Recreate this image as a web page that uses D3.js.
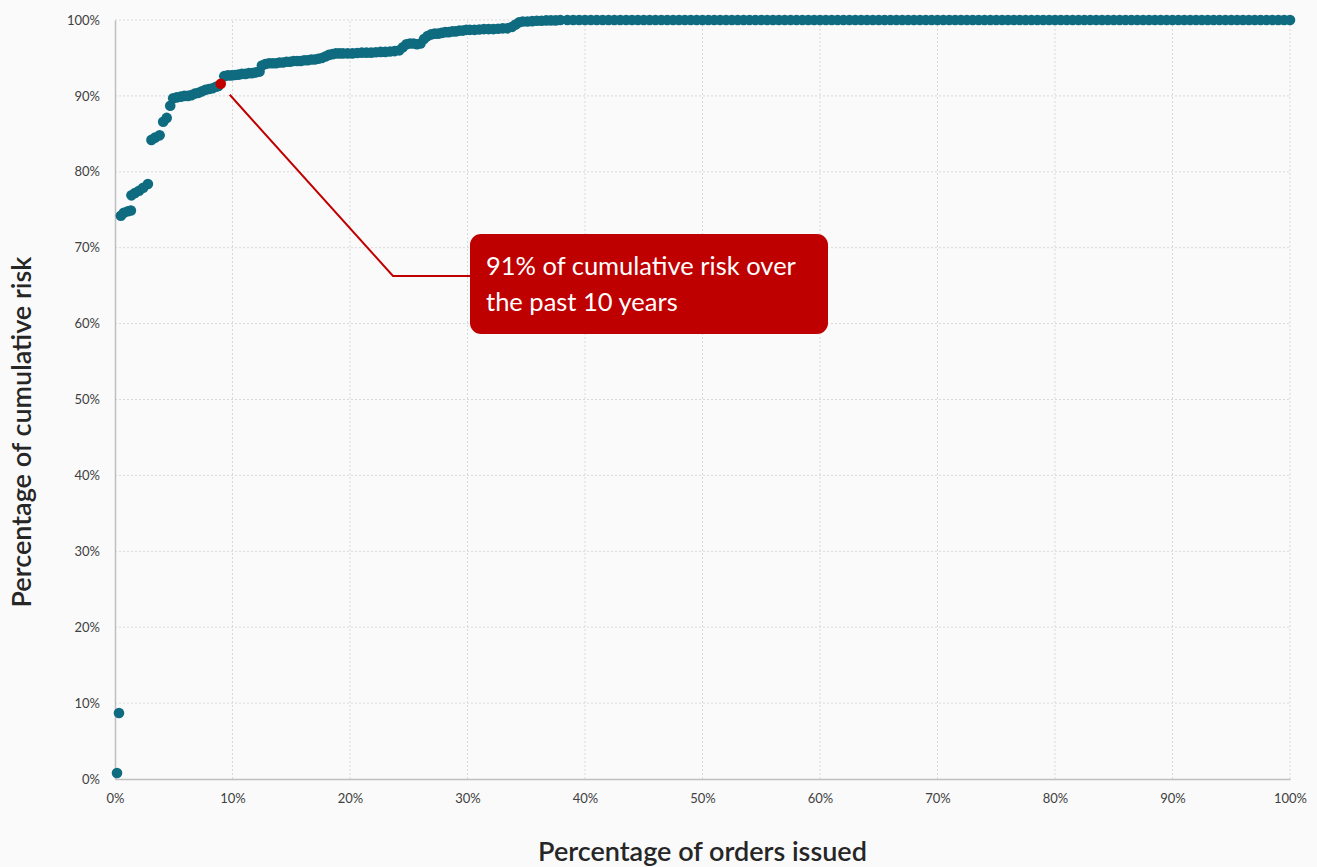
<!DOCTYPE html>
<html>
<head>
<meta charset="utf-8">
<script src="https://cdn.jsdelivr.net/npm/d3@7"></script>
<style>
  body { margin: 0; background: #fafafa; }
  svg { display: block; font-family: Lato, "Noto Sans", sans-serif; }
</style>
</head>
<body>
<svg id="chart"></svg>
<script>
// Percentage of orders issued (x) and percentage of cumulative risk (y)
const orderPct = [
  0.17, 0.34, 0.5, 0.75, 1.1, 1.35, 1.4, 1.7, 2.05, 2.4, 2.8, 3.1, 3.4, 3.8, 4.1, 4.4, 4.7, 4.95,
  5.25, 5.6, 5.9, 6.2, 6.5, 6.8, 7.1, 7.4, 7.7, 8.0, 8.3, 8.6, 8.8,
  9.3, 9.6, 9.9, 10.2, 10.5, 10.8, 11.1, 11.4, 11.7, 12.0, 12.3, 12.5, 12.8, 13.1, 13.4, 13.7,
  14.0, 14.3, 14.6, 14.9, 15.2, 15.5, 15.8, 16.1, 16.4, 16.7, 17.0, 17.3, 17.6, 17.9, 18.2, 18.5,
  18.8, 19.1, 19.4, 19.8, 20.2, 20.6, 21.0, 21.4, 21.8, 22.2, 22.6, 23.0, 23.4, 23.8, 24.2,
  24.5, 24.8, 25.1, 25.4, 25.7, 26.0, 26.3, 26.6, 26.9, 27.2, 27.5, 27.8, 28.1, 28.4, 28.7, 29.0,
  29.3, 29.6, 29.9, 30.2, 30.6, 31.0, 31.4, 31.8, 32.2, 32.6, 33.0, 33.4, 33.8, 34.1, 34.4, 34.7,
  35.1, 35.5, 35.9, 36.3, 36.7, 37.1, 37.5, 37.9,
  38.5, 39, 39.5, 40, 40.5, 41, 41.5, 42, 42.5, 43, 43.5, 44, 44.5, 45, 45.5, 46, 46.5, 47, 47.5,
  48, 48.5, 49, 49.5, 50, 50.5, 51, 51.5, 52, 52.5, 53, 53.5, 54, 54.5, 55, 55.5, 56, 56.5, 57,
  57.5, 58, 58.5, 59, 59.5, 60, 60.5, 61, 61.5, 62, 62.5, 63, 63.5, 64, 64.5, 65, 65.5, 66, 66.5,
  67, 67.5, 68, 68.5, 69, 69.5, 70, 70.5, 71, 71.5, 72, 72.5, 73, 73.5, 74, 74.5, 75, 75.5, 76,
  76.5, 77, 77.5, 78, 78.5, 79, 79.5, 80, 80.5, 81, 81.5, 82, 82.5, 83, 83.5, 84, 84.5, 85, 85.5,
  86, 86.5, 87, 87.5, 88, 88.5, 89, 89.5, 90, 90.5, 91, 91.5, 92, 92.5, 93, 93.5, 94, 94.5, 95,
  95.5, 96, 96.5, 97, 97.5, 98, 98.5, 99, 99.5, 100
];
const riskPct = [
  0.8, 8.7, 74.2, 74.6, 74.8, 74.9, 76.9, 77.2, 77.5, 77.9, 78.4, 84.2, 84.5, 84.8, 86.6, 87.1, 88.7, 89.7,
  89.8, 89.9, 90.0, 90.0, 90.1, 90.3, 90.4, 90.6, 90.8, 90.9, 91.0, 91.2, 91.3,
  92.6, 92.7, 92.7, 92.75, 92.8, 92.9, 92.9, 93.0, 93.0, 93.1, 93.2, 94.0, 94.2, 94.3, 94.3, 94.3,
  94.4, 94.4, 94.5, 94.5, 94.6, 94.6, 94.6, 94.7, 94.7, 94.8, 94.8, 94.9, 95.0, 95.2, 95.4, 95.5,
  95.6, 95.6, 95.6, 95.6, 95.6, 95.65, 95.7, 95.7, 95.7, 95.75, 95.8, 95.8, 95.85, 95.9, 96.0,
  96.4, 96.8, 96.9, 96.9, 96.8, 96.9, 97.5, 97.9, 98.1, 98.2, 98.2, 98.3, 98.4, 98.4, 98.5, 98.5,
  98.6, 98.6, 98.7, 98.7, 98.7, 98.75, 98.8, 98.8, 98.8, 98.85, 98.9, 98.9, 99.1, 99.4, 99.7, 99.8,
  99.8, 99.85, 99.9, 99.9, 99.95, 99.95, 99.95, 100,
  100, 100, 100, 100, 100, 100, 100, 100, 100, 100, 100, 100, 100, 100, 100, 100, 100, 100, 100,
  100, 100, 100, 100, 100, 100, 100, 100, 100, 100, 100, 100, 100, 100, 100, 100, 100, 100, 100,
  100, 100, 100, 100, 100, 100, 100, 100, 100, 100, 100, 100, 100, 100, 100, 100, 100, 100, 100,
  100, 100, 100, 100, 100, 100, 100, 100, 100, 100, 100, 100, 100, 100, 100, 100, 100, 100, 100,
  100, 100, 100, 100, 100, 100, 100, 100, 100, 100, 100, 100, 100, 100, 100, 100, 100, 100, 100,
  100, 100, 100, 100, 100, 100, 100, 100, 100, 100, 100, 100, 100, 100, 100, 100, 100, 100, 100,
  100, 100, 100, 100, 100, 100, 100, 100, 100, 100
];
// highlighted point (10 year mark)
const highlight = { x: 9.0, y: 91.6 };
const annotationLines = ["91% of cumulative risk over", "the past 10 years"];
const xTicks = [0, 10, 20, 30, 40, 50, 60, 70, 80, 90, 100];
const yTicks = [0, 10, 20, 30, 40, 50, 60, 70, 80, 90, 100];

const width = 1317, height = 867;
const margin = { top: 20, right: 27, bottom: 88, left: 115 };

const svg = d3.select("#chart").attr("width", width).attr("height", height);

const x = d3.scaleLinear().domain([0, 100]).range([margin.left, width - margin.right]);
const y = d3.scaleLinear().domain([0, 100]).range([height - margin.bottom, margin.top]);

// gridlines
svg.append("g")
  .selectAll("line")
  .data(xTicks.slice(1))
  .enter().append("line")
  .attr("x1", d => x(d)).attr("x2", d => x(d))
  .attr("y1", y(0)).attr("y2", y(100))
  .attr("stroke", "#d9d9d9").attr("stroke-dasharray", "2,2");

svg.append("g")
  .selectAll("line")
  .data(yTicks.slice(1))
  .enter().append("line")
  .attr("x1", x(0)).attr("x2", x(100))
  .attr("y1", d => y(d)).attr("y2", d => y(d))
  .attr("stroke", "#d9d9d9").attr("stroke-dasharray", "2,2");

// axes
const axisX = d3.axisBottom(x).tickValues(xTicks).tickFormat(d => d + "%").tickSize(0).tickPadding(15);
const gX = svg.append("g")
  .attr("transform", `translate(0,${y(0)})`)
  .call(axisX);
gX.select(".domain").attr("stroke", "#bfbfbf").attr("stroke-width", 1.5);
gX.selectAll("text").attr("font-size", 13).attr("fill", "#404040").attr("font-family", "Lato, sans-serif");

const axisY = d3.axisLeft(y).tickValues(yTicks).tickFormat(d => d + "%").tickSize(0).tickPadding(15);
const gY = svg.append("g")
  .attr("transform", `translate(${x(0)},0)`)
  .call(axisY);
gY.select(".domain").attr("stroke", "#bfbfbf").attr("stroke-width", 1.5);
gY.selectAll("text").attr("font-size", 13).attr("fill", "#404040").attr("font-family", "Lato, sans-serif");

// axis titles
svg.append("text")
  .attr("x", (x(0) + x(100)) / 2)
  .attr("y", 861)
  .attr("text-anchor", "middle")
  .attr("font-size", 27)
  .attr("font-weight", 600)
  .attr("fill", "#262626")
  .text("Percentage of orders issued");

svg.append("text")
  .attr("transform", "translate(31,432) rotate(-90)")
  .attr("text-anchor", "middle")
  .attr("font-size", 27)
  .attr("font-weight", 600)
  .attr("fill", "#262626")
  .text("Percentage of cumulative risk");

// points
const points = orderPct.map((d, i) => ({ x: d, y: riskPct[i] }));
svg.append("g")
  .selectAll("circle")
  .data(points)
  .enter().append("circle")
  .attr("cx", d => x(d.x))
  .attr("cy", d => y(d.y))
  .attr("r", 5.3)
  .attr("fill", "#0f6b7f");

svg.append("circle")
  .attr("cx", x(highlight.x))
  .attr("cy", y(highlight.y))
  .attr("r", 5.3)
  .attr("fill", "#c00000");

// annotation
const box = { x: 470, y: 234, w: 358, h: 100 };
const hx = x(highlight.x), hy = y(highlight.y);
svg.append("polyline")
  .attr("points", `${hx + 9},${hy + 11} 393,${box.y + box.h / 2 - 8} ${box.x},${box.y + box.h / 2 - 8}`)
  .attr("fill", "none")
  .attr("stroke", "#c00000")
  .attr("stroke-width", 2);

svg.append("rect")
  .attr("x", box.x).attr("y", box.y)
  .attr("width", box.w).attr("height", box.h)
  .attr("rx", 11)
  .attr("fill", "#bf0000");

svg.append("text")
  .attr("x", box.x + 16)
  .attr("y", box.y + 41)
  .attr("font-size", 25.5)
  .attr("fill", "#ffffff")
  .selectAll("tspan")
  .data(annotationLines)
  .enter().append("tspan")
  .attr("x", box.x + 16)
  .attr("dy", (d, i) => i === 0 ? 0 : 36)
  .text(d => d);
</script>
</body>
</html>
